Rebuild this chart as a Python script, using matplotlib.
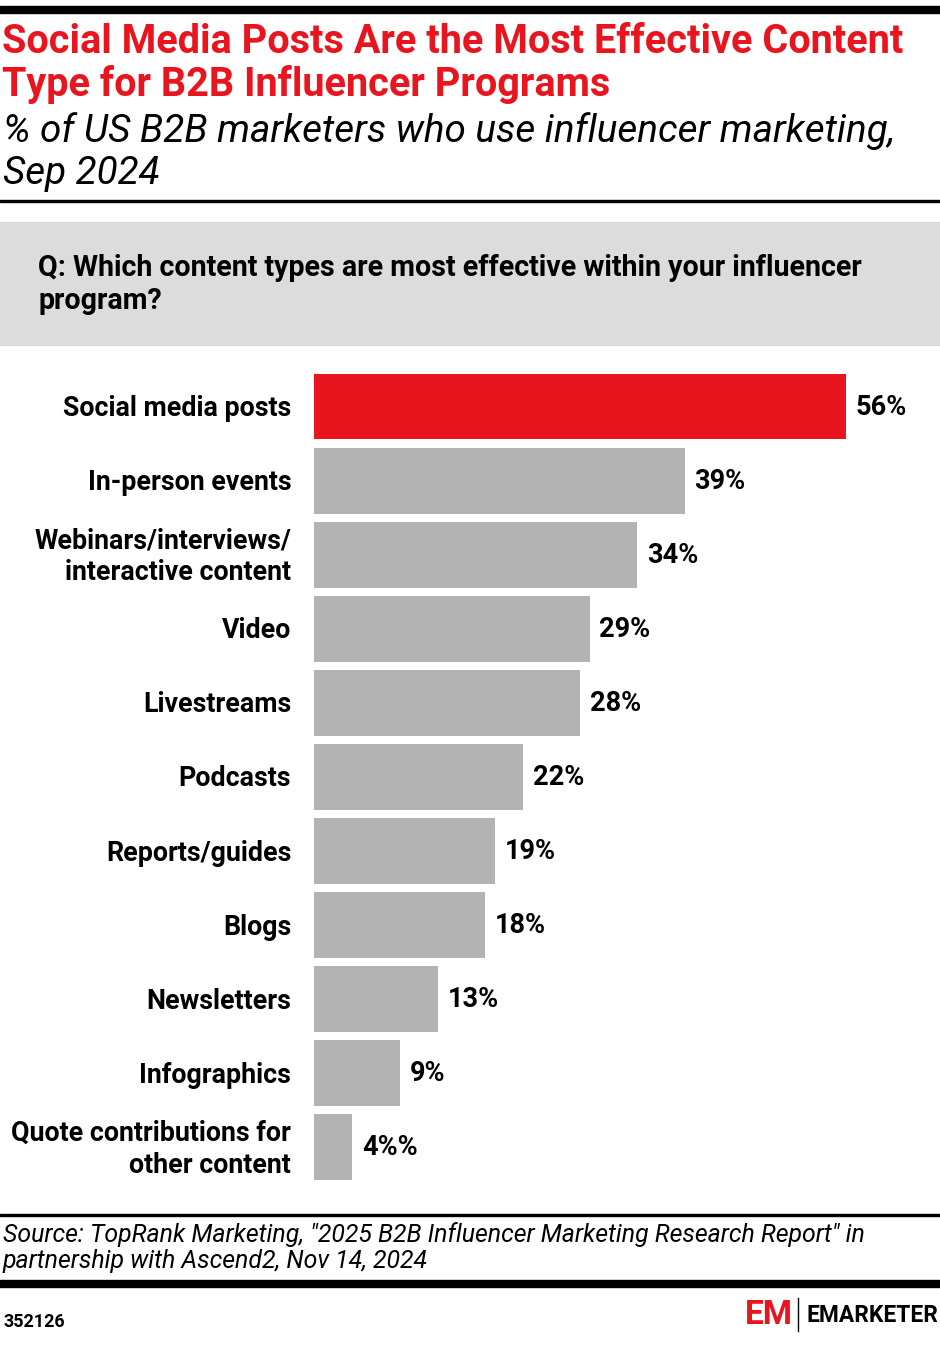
import matplotlib.pyplot as plt
from matplotlib.patches import Rectangle

plt.rcParams['font.family'] = ['Roboto', 'DejaVu Sans']

categories = [
    "Social media posts",
    "In-person events",
    "Webinars/interviews/\ninteractive content",
    "Video",
    "Livestreams",
    "Podcasts",
    "Reports/guides",
    "Blogs",
    "Newsletters",
    "Infographics",
    "Quote contributions for\nother content",
]
values = [56, 39, 34, 29, 28, 22, 19, 18, 13, 9, 4]
value_labels = ["56%", "39%", "34%", "29%", "28%", "22%", "19%", "18%", "13%", "9%", "4%%"]

RED = "#e8141e"
GRAY = "#b3b3b3"

W, H = 940, 1346
fig = plt.figure(figsize=(W / 100, H / 100), dpi=100)


def fx(x):
    return x / W


def fy(y):
    return 1 - y / H


def hline(y, thick, color="black"):
    fig.patches.append(Rectangle((0, fy(y + thick)), 1, thick / H,
                                 transform=fig.transFigure, color=color, zorder=0))


# header
hline(6, 7)
fig.text(fx(2), fy(42), "Social Media Posts Are the Most Effective Content",
         color=RED, fontsize=28.5, fontweight="bold", va="center")
fig.text(fx(2), fy(84), "Type for B2B Influencer Programs",
         color=RED, fontsize=28.5, fontweight="bold", va="center")
fig.text(fx(3), fy(131), "% of US B2B marketers who use influencer marketing,",
         color="black", fontsize=27.8, style="italic", va="center")
fig.text(fx(3), fy(173), "Sep 2024",
         color="black", fontsize=27.8, style="italic", va="center")
hline(200, 2)

# question box
fig.patches.append(Rectangle((0, fy(345)), 1, 123 / H, transform=fig.transFigure,
                             color="#dcdcdc", zorder=0))
fig.text(fx(38), fy(268), "Q: Which content types are most effective within your influencer",
         fontsize=20.6, fontweight="bold", va="center")
fig.text(fx(38), fy(301), "program?", fontsize=20.6, fontweight="bold", va="center")

# bars
ax = fig.add_axes([fx(314), fy(1184), 1 - fx(314), (1184 - 369.5) / H])
y = list(range(len(categories)))
colors = [RED] + [GRAY] * (len(categories) - 1)
ax.barh(y, values, height=0.89, color=colors)
ax.set_xlim(0, (W - 314) / 9.5)
ax.set_ylim(len(categories) - 0.5, -0.5)
ax.axis("off")
for i, (v, lab, cat) in enumerate(zip(values, value_labels, categories)):
    ax.text(v + 1.05, i + 0.01, lab, fontsize=19.5, fontweight="bold", va="center", ha="left")
    ax.text(-2.4, i + 0.03, cat, fontsize=19.3, fontweight="bold", va="center", ha="right",
            linespacing=1.25)

# footer
hline(1214, 2)
fig.text(fx(3), fy(1235), "Source: TopRank Marketing, \"2025 B2B Influencer Marketing Research Report\" in",
         fontsize=17.9, style="italic", va="center")
fig.text(fx(3), fy(1261), "partnership with Ascend2, Nov 14, 2024",
         fontsize=17.9, style="italic", va="center")
hline(1280, 7)
fig.text(fx(4), fy(1322), "352126", fontsize=13, fontweight="bold", va="center")

# logo
fig.text(fx(745), fy(1315), "EM", color=RED, fontsize=24, fontweight="bold", va="center")
fig.lines.append(plt.Line2D([fx(798), fx(798)], [fy(1298), fy(1331)],
                            transform=fig.transFigure, color="black", lw=1))
fig.text(fx(807), fy(1315), "EMARKETER", fontsize=16.4, fontweight="bold", va="center")

fig.savefig("out.png", dpi=100)
